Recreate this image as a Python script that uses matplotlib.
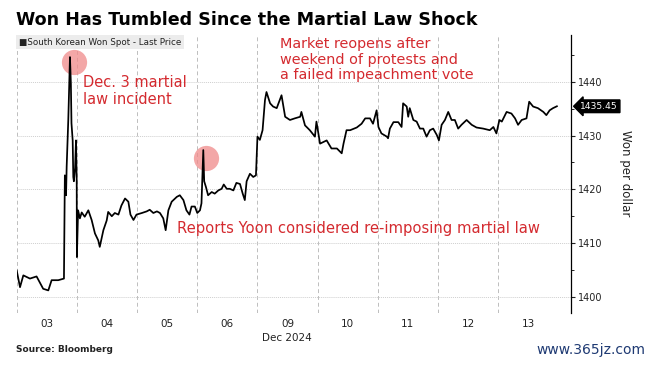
import numpy as np
import matplotlib
matplotlib.use("Agg")
import matplotlib.pyplot as plt
import matplotlib.transforms as mtransforms
from matplotlib.ticker import MultipleLocator

# trading-day position (0 = start of Dec 03, weekend removed) and won per dollar
t = [0.00, 0.055, 0.11, 0.22, 0.33, 0.44, 0.525, 0.58, 0.69, 0.785,
     0.80, 0.82, 0.83, 0.857, 0.885, 0.90, 0.91, 0.93, 0.94, 0.95,
     0.97, 0.985, 0.997, 1.00, 1.02, 1.05, 1.08, 1.13, 1.19, 1.245,
     1.30, 1.355, 1.38, 1.44, 1.495, 1.52, 1.58, 1.63, 1.69, 1.74,
     1.80, 1.855, 1.89, 1.94, 1.99, 2.08, 2.16, 2.21, 2.27, 2.33,
     2.38, 2.435, 2.475, 2.52, 2.575, 2.66, 2.71, 2.77, 2.82, 2.87,
     2.905, 2.96, 3.00, 3.045, 3.07, 3.10, 3.115, 3.145, 3.18, 3.24,
     3.29, 3.35, 3.405, 3.44, 3.49, 3.54, 3.60, 3.65, 3.71, 3.755,
     3.79, 3.82, 3.875, 3.93, 3.975, 4.00, 4.04, 4.085, 4.125, 4.15,
     4.21, 4.26, 4.32, 4.40, 4.46, 4.54, 4.62, 4.71, 4.73, 4.79,
     4.87, 4.955, 4.98, 5.04, 5.15, 5.23, 5.32, 5.40, 5.43, 5.48,
     5.54, 5.65, 5.73, 5.79, 5.87, 5.92, 5.98, 6.01, 6.06, 6.15,
     6.17, 6.20, 6.26, 6.34, 6.395, 6.42, 6.48, 6.505, 6.53, 6.59,
     6.645, 6.70, 6.755, 6.81, 6.865, 6.92, 6.98, 7.015, 7.06, 7.115,
     7.17, 7.225, 7.28, 7.335, 7.39, 7.475, 7.56, 7.64, 7.75, 7.86,
     7.92, 7.97, 8.02, 8.06, 8.14, 8.22, 8.28, 8.33, 8.39, 8.47,
     8.515, 8.58, 8.66, 8.75, 8.80, 8.855, 8.91, 8.975]
won = [1404.9, 1401.8, 1404.0, 1403.4, 1403.8, 1401.5, 1401.2, 1403.1, 1403.1, 1403.4,
       1422.6, 1418.9, 1424.2, 1432.9, 1444.6, 1439.7, 1432.3, 1429.1, 1422.3, 1421.5,
       1424.0, 1429.1, 1421.5, 1407.4, 1416.1, 1414.6, 1415.7, 1414.9, 1416.1, 1414.3,
       1411.8, 1410.5, 1409.3, 1412.4, 1414.2, 1415.8, 1415.0, 1415.6, 1415.3, 1417.0,
       1418.3, 1417.7, 1415.3, 1414.3, 1415.3, 1415.6, 1415.9, 1416.2, 1415.6, 1415.9,
       1415.6, 1414.6, 1412.4, 1416.1, 1417.7, 1418.6, 1418.9, 1418.0, 1416.1, 1415.3,
       1416.8, 1416.8, 1415.6, 1416.1, 1417.4, 1427.3, 1421.5, 1420.4, 1418.9, 1419.5,
       1419.2, 1419.8, 1420.1, 1420.9, 1420.1, 1420.1, 1419.8, 1421.2, 1421.0, 1419.2,
       1418.0, 1421.5, 1422.9, 1422.3, 1422.6, 1429.8, 1429.2, 1431.0, 1436.6, 1438.1,
       1436.0, 1435.4, 1435.1, 1437.5, 1433.5, 1432.9, 1433.2, 1433.5, 1434.4, 1431.9,
       1431.0, 1429.8, 1432.6, 1428.5, 1429.1, 1427.6, 1427.6, 1426.7, 1428.5, 1431.0,
       1431.0, 1431.5, 1432.2, 1433.2, 1433.2, 1432.2, 1434.7, 1431.6, 1430.4, 1429.8,
       1429.5, 1431.3, 1432.5, 1432.5, 1431.6, 1436.0, 1435.4, 1433.5, 1435.1, 1432.9,
       1432.6, 1431.3, 1431.3, 1429.8, 1431.0, 1431.3, 1430.1, 1429.1, 1432.0, 1432.9,
       1434.4, 1432.9, 1432.9, 1431.3, 1432.0, 1432.9, 1432.0, 1431.5, 1431.3, 1431.0,
       1431.6, 1430.4, 1432.9, 1432.6, 1434.4, 1434.1, 1433.2, 1432.0, 1432.9, 1433.2,
       1436.3, 1435.4, 1435.1, 1434.4, 1433.8, 1434.7, 1435.1, 1435.45]

day_labels = ["03", "04", "05", "06", "09", "10", "11", "12", "13"]
last_price = 1435.45

# annotation anchors (day position, won)
circle_pts = [(0.95, 1443.6), (3.145, 1425.9)]
red = "#d42a2f"

fig = plt.figure(figsize=(6.5, 3.65), dpi=100)
ax = fig.add_axes([0.0257, 0.1425, 0.8528, 0.7615])

ax.set_xlim(0, 9.21)
ax.set_ylim(1397.0, 1448.7)

# grid
for d in range(len(day_labels)):
    ax.axvline(d, color="#bdbdbd", lw=0.7, ls=(0, (4, 3)), zorder=0)
for v in range(1400, 1441, 10):
    ax.axhline(v, color="#cfcfcf", lw=0.7, ls=(0, (1, 1)), zorder=0)

# highlight circles
cx, cy = zip(*circle_pts)
ax.scatter(cx, cy, s=330, color="#f08a8a", alpha=0.75, lw=0, zorder=2)

ax.plot(t, won, color="black", lw=1.25, zorder=3)

# axes styling
for s in ["left", "top", "bottom"]:
    ax.spines[s].set_visible(False)
ax.spines["right"].set_linewidth(0.9)
ax.yaxis.tick_right()
ax.yaxis.set_major_locator(MultipleLocator(10))
ax.yaxis.set_minor_locator(MultipleLocator(5))
ax.tick_params(axis="y", which="major", length=3, labelsize=7, colors="#222222", pad=2)
ax.tick_params(axis="y", which="minor", length=2)
ax.set_xticks(np.arange(len(day_labels)) + 0.5)
ax.set_xticklabels(day_labels)
ax.tick_params(axis="x", length=0, labelsize=7.5, colors="#222222", pad=4)

# last price tag
trans = mtransforms.blended_transform_factory(ax.transAxes, ax.transData)
ax.text(1.017, last_price, "%.2f" % last_price, transform=trans, color="white",
        fontsize=6.6, va="center", ha="left",
        bbox=dict(boxstyle="larrow,pad=0.2", fc="black", ec="black"))

# legend box
ax.text(0.004, 0.99, "\u25a0South Korean Won Spot - Last Price", transform=ax.transAxes,
        fontsize=6.3, va="top", ha="left", color="#222222",
        bbox=dict(boxstyle="square,pad=0.3", fc="#ececec", ec="none"))

# annotations
ax.text(1.1, 1438.3, "Dec. 3 martial\nlaw incident", color=red, fontsize=10.5,
        va="center", ha="left", linespacing=1.15)
ax.text(4.37, 1444.1, "Market reopens after\nweekend of protests and\na failed impeachment vote",
        color=red, fontsize=10.4, va="center", ha="left", linespacing=1.15)
ax.text(2.66, 1412.8, "Reports Yoon considered re-imposing martial law", color=red,
        fontsize=10.6, va="center", ha="left")

fig.text(0.963, 0.526, "Won per dollar", rotation=270, fontsize=8.5, va="center",
         ha="center", color="#222222")
fig.text(287 / 650, 1 - 338 / 365, "Dec 2024", fontsize=7.5, ha="center", va="center",
         color="#222222")
fig.text(16 / 650, 1 - 20 / 365, "Won Has Tumbled Since the Martial Law Shock",
         fontsize=12.6, fontweight="bold", va="center", ha="left")
fig.text(16 / 650, 1 - 350 / 365, "Source: Bloomberg", fontsize=6.5, fontweight="bold",
         va="center", ha="left", color="#222222")
fig.text(0.993, 1 - 350 / 365, "www.365jz.com", fontsize=10, va="center", ha="right",
         color="#1f3a73")

fig.savefig("out.png", dpi=100)
